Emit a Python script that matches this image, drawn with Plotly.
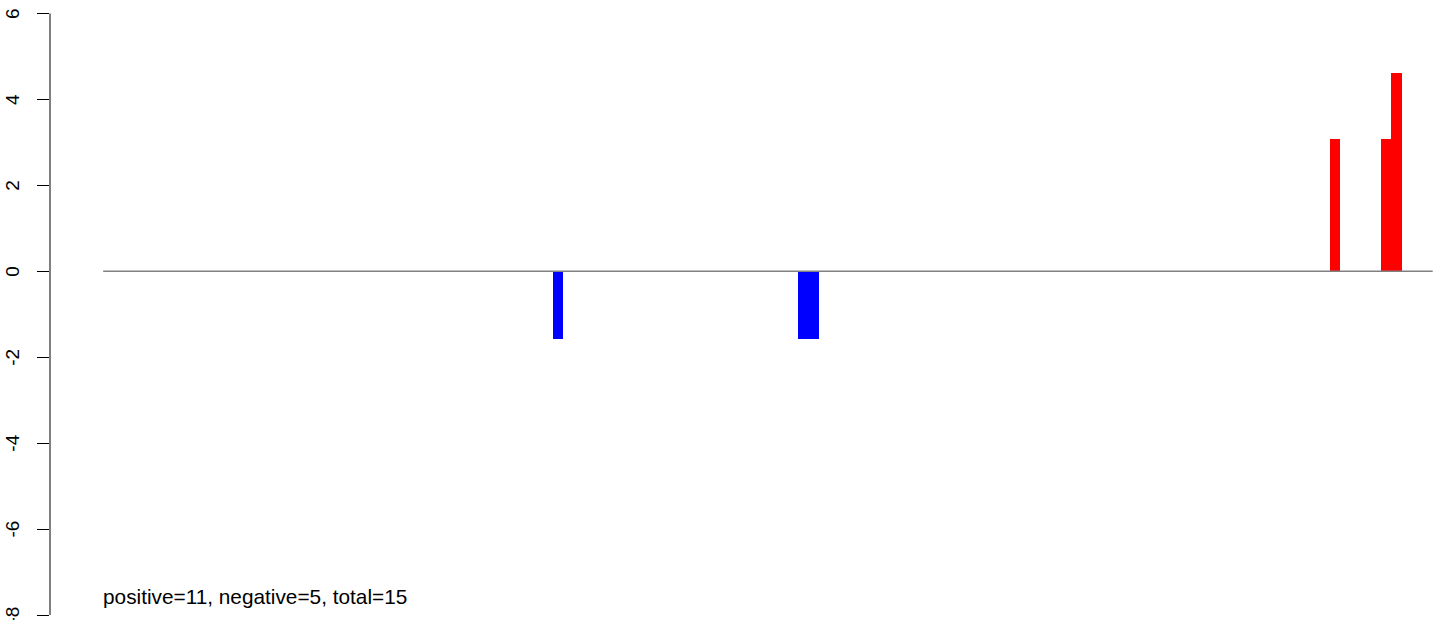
import plotly.graph_objects as go

# ---- data ----
n_sites = 128                      # number of bar slots along the baseline
bar_pos = [43.8, 67.4, 68.4, 118.6, 123.5, 124.5]   # slot centres of non-zero bars
bar_val = [-1.57, -1.57, -1.57, 3.09, 3.09, 4.62]
bar_width = 1.02
n_positive = 11
n_negative = 5
n_total = 15
y_ticks = [-8, -6, -4, -2, 0, 2, 4, 6]
y_tick_labels = ["-8", "-6", "-4", "-2", "0", "2", "4", "6"]

colors = ["#FF0000" if v > 0 else "#0000FF" for v in bar_val]

fig = go.Figure()
fig.add_trace(go.Bar(
    x=bar_pos, y=bar_val, width=[bar_width] * len(bar_pos),
    marker=dict(color=colors, line=dict(width=0)),
    showlegend=False, hoverinfo="x+y",
))

# baseline from first to last slot
fig.add_shape(type="line", xref="x", yref="y", x0=0, x1=n_sites, y0=0, y1=0,
              line=dict(color="#808080", width=1.5), layer="above")
# R-style y axis line spanning only the tick range
fig.add_shape(type="line", xref="paper", yref="y", x0=0, x1=0,
              y0=min(y_ticks), y1=max(y_ticks),
              line=dict(color="black", width=1))

# rotated y tick labels (R las=0 style)
for v, lab in zip(y_ticks, y_tick_labels):
    fig.add_annotation(
        x=0, y=v, xref="paper", yref="y", xanchor="right", yanchor="middle",
        xshift=-25, text=lab, textangle=-90, showarrow=False,
        font=dict(family="Liberation Sans, Arial", size=19, color="black"),
    )

fig.add_annotation(
    x=0, y=-7.58, xref="x", yref="y", xanchor="left", yanchor="middle", xshift=-2,
    text=f"positive={n_positive}, negative={n_negative}, total={n_total}",
    showarrow=False, font=dict(family="Liberation Sans, Arial", size=20.8, color="black"),
)

fig.update_layout(
    width=1444, height=620,
    margin=dict(l=50, r=0, t=0, b=0, autoexpand=False),
    plot_bgcolor="white", paper_bgcolor="white",
    bargap=0,
    font=dict(family="Liberation Sans, Arial", color="black"),
    xaxis=dict(range=[-0.04 * n_sites, 129.09], visible=False, showgrid=False,
               zeroline=False, automargin=False),
    yaxis=dict(
        range=[-8.116, 6.314], showgrid=False, zeroline=False, showline=False,
        automargin=False, showticklabels=False,
        tickmode="array", tickvals=y_ticks,
        ticks="outside", ticklen=12, tickwidth=1, tickcolor="black",
    ),
)

fig.write_html("out.html", config={"displayModeBar": False},
               post_script="document.body.style.margin='0px';")
